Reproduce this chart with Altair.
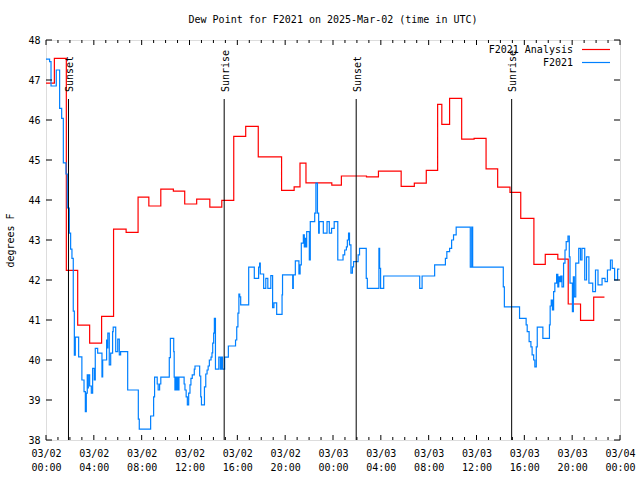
import altair as alt
import pandas as pd

# hours since 2025-03-02 00:00 UTC
red_h = [0.0, 0.7, 1.7, 2.65, 3.65, 4.65, 5.65, 6.7, 7.7, 8.6, 9.6, 10.65, 11.6, 12.6,
         13.7, 14.7, 15.7, 16.7, 17.75, 19.7, 20.75, 21.24, 21.74, 23.9, 24.7, 26.8,
         27.8, 29.7, 30.8, 31.8, 32.75, 33.1, 33.75, 34.76, 35.8, 36.8, 37.77, 38.8,
         39.7, 40.8, 41.75, 42.8, 43.67, 44.7, 45.8, 46.7]
red_v = [46.92, 47.54, 42.24, 40.87, 40.42, 41.09, 43.27, 43.19, 44.07, 43.85, 44.27, 44.22, 43.90, 44.02,
         43.82, 43.99, 45.59, 45.84, 45.08, 44.24, 44.33, 44.92, 44.43, 44.37, 44.60, 44.58,
         44.72, 44.34, 44.42, 44.74, 46.39, 45.89, 46.54, 45.52, 45.54, 44.78, 44.32, 44.19,
         43.54, 42.39, 42.64, 42.52, 41.40, 40.99, 41.57, 41.57]

blue_h = [0.0, 0.3, 0.42, 0.86, 1.14, 1.31, 1.45, 1.67, 1.78, 1.95, 2.06, 2.17, 2.28, 2.37, 2.45,
          2.73, 3.0, 3.18, 3.29, 3.37, 3.45, 3.5, 3.54, 3.65, 3.79, 3.9, 4.04, 4.12, 4.32, 4.68,
          4.74, 5.07, 5.12, 5.17, 5.29, 5.41, 5.57, 5.62, 5.83, 6.0, 6.13, 6.24, 6.83, 7.72, 7.8,
          8.75, 9.0, 9.08, 9.3, 9.38, 9.5, 9.6, 10.31, 10.4, 10.68, 10.72, 10.78, 10.85, 10.92,
          11.0, 11.05, 11.12, 11.55, 11.62, 11.72, 11.82, 11.93, 12.04, 12.12, 12.23, 12.4, 12.46,
          12.85, 12.94, 13.0, 13.25, 13.36, 13.47, 13.56, 13.66, 13.8, 13.88, 13.94, 14.02, 14.08,
          14.17, 14.45, 14.58, 14.66, 14.76, 14.94, 15.25, 15.85, 15.95, 16.05, 16.13, 16.2, 16.28,
          16.95, 17.42, 17.78, 17.86, 17.92, 18.2, 18.38, 18.55, 18.8, 18.95, 19.06, 19.29, 19.74,
          19.78, 20.63, 20.68, 20.85, 21.15, 21.25, 21.35, 21.52, 21.6, 21.65, 21.72, 21.8, 22.02,
          22.1, 22.47, 22.57, 22.7, 22.8, 22.85, 23.19, 23.5, 23.69, 23.88, 24.1, 24.4, 24.84,
          24.98, 25.12, 25.2, 25.3, 25.38, 25.5, 25.62, 25.72, 26.1, 26.22, 26.78, 26.87, 27.84,
          27.9, 27.98, 28.24, 31.25, 31.45, 32.5, 33.4, 33.52, 33.75, 33.92, 34.08, 34.3, 35.48,
          35.6, 35.68, 35.8, 38.24, 38.33, 39.6, 40.15, 40.24, 40.4, 40.55, 40.65, 40.78, 40.88,
          41.0, 41.08, 41.55, 42.1, 42.16, 42.25, 42.35, 42.45, 42.55, 42.7, 42.8, 42.88, 42.95,
          43.05, 43.15, 43.28, 43.4, 43.5, 43.65, 43.76, 43.82, 44.02, 44.1, 44.18, 44.3, 44.55,
          44.7, 44.82, 45.05, 45.2, 45.4, 45.72, 45.95, 46.16, 46.5, 46.75, 46.95, 47.2, 47.35,
          47.55, 47.8, 47.95]
blue_v = [47.52, 47.46, 46.85, 47.25, 46.29, 46.04, 44.93, 44.65, 43.8, 43.17, 42.77, 42.54, 41.22, 40.12, 40.57,
          40.08, 39.5, 39.21, 38.71, 39.17, 39.63, 39.3, 39.63, 39.35, 39.17, 39.79, 39.5, 40.29, 40.17, 39.58,
          40.0, 40.5, 40.3, 40.67, 39.88, 40.17, 40.71, 40.82, 40.21, 40.52, 40.13, 40.21, 39.25, 38.52, 38.27,
          38.6, 39.08, 39.57, 39.4, 39.25, 39.4, 39.57, 40.06, 40.54, 40.21, 39.57, 39.25, 39.57, 39.25,
          39.57, 39.25, 39.57, 39.4, 39.25, 39.08, 38.88, 39.17, 39.38, 39.54, 39.63, 39.77, 39.85,
          39.6, 39.08, 38.88, 39.33, 39.65, 39.75, 39.85, 40.0, 40.07, 40.18, 40.42, 40.67, 41.04,
          39.77, 40.07, 39.77, 40.07, 39.77, 40.07, 40.35, 40.5, 40.83, 41.17, 41.65, 41.58, 41.38,
          42.32, 42.04, 42.32, 42.42, 42.15, 41.79, 42.04, 41.79, 42.11, 41.31, 41.43, 41.14, 41.63,
          42.13, 41.79, 42.13, 42.48, 42.15, 42.38, 42.92, 43.13, 42.83, 43.04, 42.83, 43.21, 42.5,
          43.46, 43.67, 44.42, 43.67, 43.17, 43.46, 43.17, 43.46, 43.17, 43.29, 43.46, 42.5, 42.63,
          42.75, 42.83, 43.0, 43.17, 42.88, 42.17, 42.33, 42.46, 42.63, 42.79, 42.04, 41.79, 42.79,
          42.29, 41.79, 42.1, 41.79, 42.1, 42.38, 42.54, 42.71, 42.79, 43.0, 43.13, 43.32, 42.32,
          43.32, 42.32, 42.32, 41.83, 41.33, 41.04, 40.88, 40.71, 40.46, 40.33, 40.13, 40.0, 39.83,
          40.33, 40.82, 40.54, 40.88, 41.35, 41.5, 41.25, 41.71, 41.92, 42.14, 41.83, 42.08, 41.96,
          42.1, 41.83, 42.42, 42.75, 42.96, 43.1, 42.58, 41.92, 41.21, 42.08, 41.58, 42.42, 42.79,
          42.5, 42.79, 42.0, 42.58, 41.92, 41.71, 42.25, 41.88, 42.04, 41.96, 42.25, 42.5, 42.29,
          42.0, 42.27, 42.27]

event_h = [1.88, 14.9, 25.94, 38.94]
event_name = ["Sunset", "Sunrise", "Sunset", "Sunrise"]

x_major = list(range(0, 49, 4))
x_minor = [h for h in range(0, 49) if h % 4 != 0]
y_ticks = list(range(38, 49))

FONT = "DejaVu Sans Mono"
RED = "#ff0000"
BLUE = "#0080ff"
W, H = 574, 400

red_df = pd.DataFrame({"h": red_h, "v": red_v})
blue_df = pd.DataFrame({"h": blue_h, "v": blue_v})
ev_df = pd.DataFrame({"h": event_h, "name": event_name})

xscale = alt.Scale(domain=[0, 48], nice=False, zero=False)
yscale = alt.Scale(domain=[38, 48], nice=False, zero=False)

label_expr = ("[datum.value < 24 ? '03/02' : (datum.value < 48 ? '03/03' : '03/04'), "
              "((datum.value % 24) < 10 ? '0' : '') + (datum.value % 24) + ':00']")

xaxis = alt.Axis(values=x_major, labelExpr=label_expr, labelPadding=8, labelLineHeight=14,
                 title=None)
yaxis = alt.Axis(values=y_ticks, labelExpr="format(datum.value, 'd')", labelPadding=6,
                 title="degrees F",
                 titleX=-36, titleY=200, titleAlign="center", titleBaseline="middle", titleAngle=270)


def X(field="h"):
    return alt.X(f"{field}:Q", scale=xscale, axis=xaxis)


def Y(field="v"):
    return alt.Y(f"{field}:Q", scale=yscale, axis=yaxis)


red_line = alt.Chart(red_df).mark_line(color=RED, strokeWidth=1.2, interpolate="step-after").encode(
    x=X(), y=Y())
blue_line = alt.Chart(blue_df).mark_line(color=BLUE, strokeWidth=1.2, interpolate="step-after").encode(
    x=X(), y=Y())

ev_rule = alt.Chart(ev_df).mark_rule(color="black", strokeWidth=1).encode(
    x=X(), y=alt.value(59), y2=alt.value(H))
ev_text = alt.Chart(ev_df).mark_text(angle=270, align="left", baseline="middle", font=FONT,
                                     fontSize=10, color="black", dy=1.5).encode(
    x=X(), y=alt.value(52), text="name:N")

maj_df = pd.DataFrame({"h": x_major})
min_df = pd.DataFrame({"h": x_minor})
yt_df = pd.DataFrame({"v": y_ticks})

tick_layers = [
    alt.Chart(maj_df).mark_rule(color="black").encode(x=X(), y=alt.value(H), y2=alt.value(H - 5)),
    alt.Chart(maj_df).mark_rule(color="black").encode(x=X(), y=alt.value(0), y2=alt.value(5)),
    alt.Chart(min_df).mark_rule(color="black").encode(x=X(), y=alt.value(H), y2=alt.value(H - 3)),
    alt.Chart(min_df).mark_rule(color="black").encode(x=X(), y=alt.value(0), y2=alt.value(3)),
    alt.Chart(yt_df).mark_rule(color="black").encode(y=Y(), x=alt.value(0), x2=alt.value(6)),
    alt.Chart(yt_df).mark_rule(color="black").encode(y=Y(), x=alt.value(W), x2=alt.value(W - 6)),
]

legend_names = ["F2021 Analysis", "F2021"]
legend_colors = [RED, BLUE]
legend_layers = []
for i, (name, col) in enumerate(zip(legend_names, legend_colors)):
    ldf = pd.DataFrame({"name": [name]})
    ly = 9.5 + 13 * i
    legend_layers.append(alt.Chart(ldf).mark_text(align="right", baseline="middle", font=FONT,
                                                  fontSize=10, color="black").encode(
        x=alt.value(527), y=alt.value(ly), text="name:N"))
    legend_layers.append(alt.Chart(ldf).mark_rule(color=col, strokeWidth=1.2).encode(
        x=alt.value(536), x2=alt.value(564), y=alt.value(ly)))

chart = alt.layer(red_line, blue_line, ev_rule, ev_text, *tick_layers, *legend_layers).properties(
    width=W, height=H,
    title=alt.TitleParams("Dew Point for F2021 on 2025-Mar-02 (time in UTC)", font=FONT, fontSize=10,
                          fontWeight="normal", color="black", anchor="middle", offset=10),
    padding={"left": 46, "top": 40, "right": 20, "bottom": 40},
    autosize=alt.AutoSizeParams(type="none"),
).configure_view(stroke="black", strokeWidth=1).configure(background="white").configure_axis(
    labelFont=FONT, labelFontSize=10, labelColor="black", labelOverlap=False, labelFlush=False,
    labelBound=False, ticks=False, domain=False, grid=False,
    titleFont=FONT, titleFontSize=10, titleFontWeight="normal", titleColor="black",
)

chart.save("out.html", embed_options={"renderer": "svg", "actions": False})
